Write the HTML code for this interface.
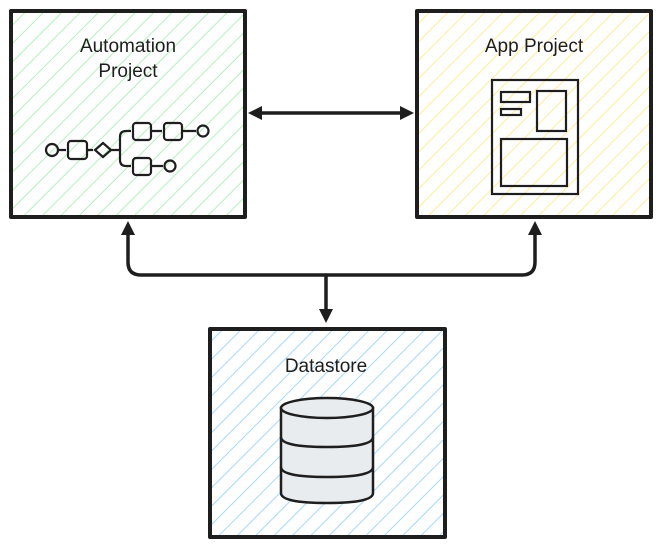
<!DOCTYPE html>
<html><head><meta charset="utf-8"><style>html,body{margin:0;padding:0;background:#fff;}svg{display:block}</style></head>
<body>
<svg width="662" height="546" viewBox="0 0 662 546" xmlns="http://www.w3.org/2000/svg">
<defs>
<pattern id="hg" patternUnits="userSpaceOnUse" width="13" height="13" patternTransform="rotate(45)"><line x1="0" y1="0" x2="0" y2="13" stroke="#b2f2bb" stroke-width="2"/></pattern>
<pattern id="hy" patternUnits="userSpaceOnUse" width="13" height="13" patternTransform="rotate(45)"><line x1="0" y1="0" x2="0" y2="13" stroke="#ffec99" stroke-width="2"/></pattern>
<pattern id="hb" patternUnits="userSpaceOnUse" width="13" height="13" patternTransform="rotate(45)"><line x1="0" y1="0" x2="0" y2="13" stroke="#a5d8ff" stroke-width="2"/></pattern>
</defs>
<g stroke="#1e1e1e" stroke-width="4" stroke-linejoin="round">
<rect x="11" y="11" width="234" height="206" fill="url(#hg)"/>
<rect x="417" y="11" width="234" height="206" fill="url(#hy)"/>
<rect x="210" y="329" width="235" height="208" fill="url(#hb)"/>
</g>
<g font-family="'Comic Sans MS','Liberation Sans',sans-serif" font-size="19" fill="#1e1e1e" text-anchor="middle">
<text x="128" y="52">Automation</text>
<text x="128" y="77">Project</text>
<text x="534" y="52">App Project</text>
<text x="326" y="372">Datastore</text>
</g>
<!-- connectors -->
<g stroke="#1e1e1e" stroke-width="3.5" fill="none" stroke-linecap="round">
<line x1="258" y1="113" x2="404" y2="113"/>
<path d="M128 232 V262 Q128 275 141 275 H522 Q535 275 535 262 V232"/>
<line x1="326" y1="275" x2="326" y2="312"/>
</g>
<g fill="#1e1e1e">
<polygon points="248,113 262,106 262,120"/>
<polygon points="414,113 400,106 400,120"/>
<polygon points="128,221 121,235 135,235"/>
<polygon points="535,221 528,235 542,235"/>
<polygon points="326,323 319,309 333,309"/>
</g>
<!-- bpmn -->
<g stroke="#1e1e1e" stroke-width="2.2" fill="none">
<circle cx="52" cy="150" r="6"/>
<rect x="68" y="141" width="19" height="18" rx="3"/>
<polygon points="103,143 111,150 103,157 95,150"/>
<rect x="133" y="123" width="18" height="17" rx="3"/>
<rect x="164" y="123" width="18" height="17" rx="3"/>
<circle cx="203" cy="131" r="5.5"/>
<rect x="133" y="158" width="18" height="17" rx="3"/>
<circle cx="170" cy="166" r="5.5"/>
<path d="M58 150 H66 M87 150 H93 M111 150 H120 M120 150 V137 Q120 131 126 131 H131 M120 150 V160 Q120 166 126 166 H131 M151 131 H162 M182 131 H196 M151 166 H163"/>
</g>
<!-- app icon -->
<g stroke="#1e1e1e" stroke-width="2.2" fill="none">
<rect x="492" y="80" width="86" height="114"/>
<rect x="501" y="92" width="29" height="10"/>
<rect x="501" y="109" width="20" height="6"/>
<rect x="537" y="91" width="29" height="40"/>
<rect x="501" y="139" width="66" height="47"/>
</g>
<!-- cylinder -->
<g stroke="#1e1e1e" stroke-width="2.5" fill="#e9ecef">
<path d="M281 408 V493 Q281 503 327 503 Q373 503 373 493 V408 Z"/>
<ellipse cx="327" cy="408" rx="46" ry="10"/>
<path d="M281 437 Q281 447 327 447 Q373 447 373 437" fill="none"/>
<path d="M281 467 Q281 477 327 477 Q373 477 373 467" fill="none"/>
</g>
</svg>
</body></html>
